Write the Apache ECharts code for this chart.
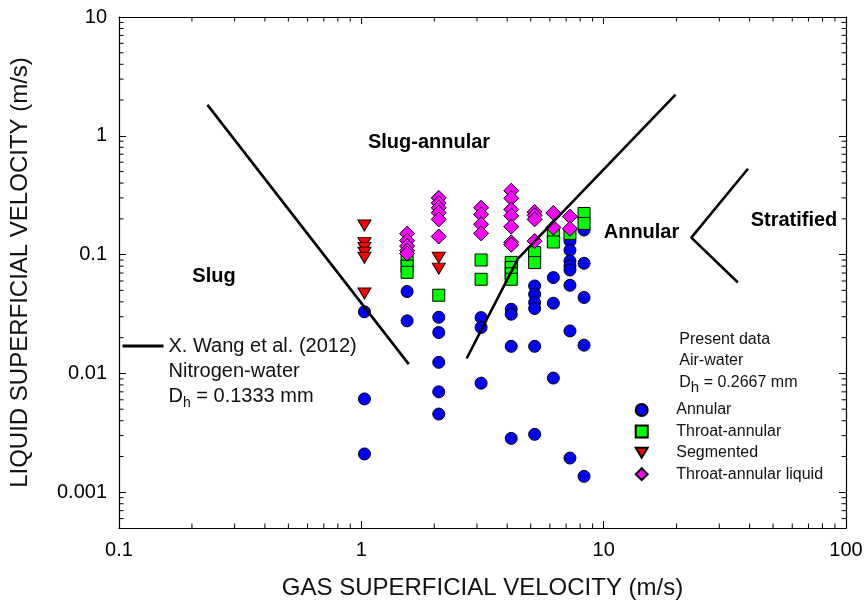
<!DOCTYPE html>
<html><head><meta charset="utf-8">
<script src="https://cdn.jsdelivr.net/npm/echarts@6/dist/echarts.min.js"></script>
<style>html,body{margin:0;padding:0;background:#fff}#c{width:866px;height:608px}</style>
</head><body><div id="c"></div>
<script>
// ---- axis ticks ----
const xTicks = [0.1, 1, 10, 100];
const xTickLabels = ['0.1', '1', '10', '100'];
const yTicks = [0.001, 0.01, 0.1, 1, 10];
const yTickLabels = ['0.001', '0.01', '0.1', '1', '10'];
const minorMultipliers = [2, 3, 4, 5, 6, 7, 8, 9];
const xDecades = [0.1, 1, 10];
const yDecades = [0.0001, 0.001, 0.01, 0.1, 1];
const xMin = 0.1, xMax = 100, yMin = 0.0005, yMax = 10;

// ---- present data (gas velocity, liquid velocity) ----
const annular = [
  [1.03, 0.033], [1.03, 0.0061], [1.03, 0.0021],
  [1.545, 0.0489], [1.545, 0.0277],
  [2.087, 0.0297], [2.087, 0.0221], [2.087, 0.0124], [2.087, 0.0070], [2.087, 0.00455],
  [3.12, 0.0295], [3.12, 0.0244], [3.12, 0.00828],
  [4.155, 0.0347], [4.155, 0.0315], [4.155, 0.0169], [4.155, 0.00284],
  [5.19, 0.0545], [5.19, 0.0464], [5.19, 0.0395], [5.19, 0.0352], [5.19, 0.0169], [5.19, 0.00307],
  [6.2, 0.0641], [6.2, 0.039], [6.2, 0.00914],
  [7.26, 0.130], [7.26, 0.109], [7.26, 0.0883], [7.26, 0.0802], [7.26, 0.0742], [7.26, 0.0552], [7.26, 0.0228], [7.26, 0.00194],
  [8.3, 0.161], [8.3, 0.0845], [8.3, 0.0436], [8.3, 0.0173], [8.3, 0.00136]
];
const throatAnnular = [
  [1.545, 0.092], [1.545, 0.080], [1.545, 0.071],
  [2.087, 0.0455],
  [3.12, 0.0901], [3.12, 0.0620],
  [4.155, 0.086], [4.155, 0.078], [4.155, 0.069], [4.155, 0.062],
  [5.19, 0.104], [5.19, 0.0857],
  [6.2, 0.153], [6.2, 0.1277],
  [7.26, 0.151],
  [8.3, 0.222], [8.3, 0.183]
];
const segmented = [
  [1.03, 0.176], [1.03, 0.125], [1.03, 0.114], [1.03, 0.104], [1.03, 0.094], [1.03, 0.047],
  [2.087, 0.0944], [2.087, 0.0762]
];
const throatAnnularLiquid = [
  [1.545, 0.150], [1.545, 0.131], [1.545, 0.118], [1.545, 0.108], [1.545, 0.102],
  [2.087, 0.300], [2.087, 0.272], [2.087, 0.248], [2.087, 0.225], [2.087, 0.198], [2.087, 0.142],
  [3.12, 0.248], [3.12, 0.218], [3.12, 0.180], [3.12, 0.151],
  [4.155, 0.345], [4.155, 0.298], [4.155, 0.240], [4.155, 0.212], [4.155, 0.172], [4.155, 0.127], [4.155, 0.121],
  [5.19, 0.228], [5.19, 0.214], [5.19, 0.198], [5.19, 0.130],
  [6.2, 0.224], [6.2, 0.169],
  [7.26, 0.209], [7.26, 0.165]
];

// ---- X. Wang et al. (2012) transition boundaries ----
const wangSlugBoundary = [[0.2317, 1.82], [1.569, 0.01197]];
const wangAnnularBoundary = [[2.72, 0.01336], [4.43, 0.0925], [19.8, 2.22]];
const wangStratifiedBoundary = [[39.4, 0.528], [23.0, 0.139], [35.8, 0.0582]];

const FONT = '"Liberation Sans", Arial, Helvetica, sans-serif';

const xMinorData = [];
xDecades.forEach(d => minorMultipliers.forEach(m => { const v = d * m; if (v > xMin && v < xMax) xMinorData.push([v, 1]); }));
const yMinorData = [];
yDecades.forEach(d => minorMultipliers.forEach(m => { const v = d * m; if (v > yMin && v < yMax) yMinorData.push([1, v]); }));

function fmt(ticks, labels) {
  return function (v) {
    for (let i = 0; i < ticks.length; i++) {
      if (Math.abs(Math.log10(v) - Math.log10(ticks[i])) < 1e-6) return labels[i];
    }
    return '';
  };
}

const ML = 4.5;
function minorTickSeries(data, isX) {
  return {
    type: 'custom', coordinateSystem: 'cartesian2d', silent: true, clip: false, z: 6,
    data: data,
    renderItem: function (params, api) {
      const st = { stroke: '#000', lineWidth: 1 };
      if (isX) {
        const v = api.value(0);
        const b = api.coord([v, yMin]), t = api.coord([v, yMax]);
        return { type: 'group', children: [
          { type: 'line', shape: { x1: b[0], y1: b[1], x2: b[0], y2: b[1] - ML }, style: st },
          { type: 'line', shape: { x1: t[0], y1: t[1], x2: t[0], y2: t[1] + ML }, style: st }
        ] };
      } else {
        const v = api.value(1);
        const l = api.coord([xMin, v]), r = api.coord([xMax, v]);
        return { type: 'group', children: [
          { type: 'line', shape: { x1: l[0], y1: l[1], x2: l[0] + ML, y2: l[1] }, style: st },
          { type: 'line', shape: { x1: r[0], y1: r[1], x2: r[0] - ML, y2: r[1] }, style: st }
        ] };
      }
    }
  };
}

const axisCommon = {
  type: 'log', logBase: 10,
  axisLine: { show: true, onZero: false, lineStyle: { color: '#000', width: 1.2 } },
  axisTick: { show: true, inside: true, length: 7, lineStyle: { color: '#000', width: 1 } },
  splitLine: { show: false },
  minorTick: { show: false },
  minorSplitLine: { show: false }
};

const WANG = 'X. Wang et al. (2012)';
const lineStyleWang = { color: '#000', width: 2.6 };

const chart = echarts.init(document.getElementById('c'), null, { renderer: 'canvas' });
chart.setOption({
  animation: false,
  backgroundColor: '#fff',
  textStyle: { fontFamily: FONT },
  grid: { left: 119, right: 20, top: 17, bottom: 80, containLabel: false },
  xAxis: [
    Object.assign({}, axisCommon, { min: xMin, max: xMax, position: 'bottom',
      axisLabel: { show: true, fontSize: 20, color: '#000', margin: 12, fontFamily: FONT, formatter: fmt(xTicks, xTickLabels) } }),
    Object.assign({}, axisCommon, { min: xMin, max: xMax, position: 'top', axisLabel: { show: false } })
  ],
  yAxis: [
    Object.assign({}, axisCommon, { min: yMin, max: yMax, position: 'left',
      axisLabel: { show: true, fontSize: 20, color: '#000', margin: 12, fontFamily: FONT, formatter: fmt(yTicks, yTickLabels) } }),
    Object.assign({}, axisCommon, { min: yMin, max: yMax, position: 'right', axisLabel: { show: false } })
  ],
  legend: [
    {
      data: ['Annular', 'Throat-annular', { name: 'Segmented', icon: 'path://M0,0L13,0L6.5,11Z' }, 'Throat-annular liquid'],
      orient: 'vertical', left: 634.7, top: 402, padding: 0,
      itemWidth: 12, itemHeight: 12, itemGap: 5.4,
      formatter: function (name) { return '{sp| }{t|' + name + '}'; },
      textStyle: { fontSize: 16, lineHeight: 16, color: '#111', fontFamily: FONT,
        rich: { sp: { width: 23.6, fontSize: 16, lineHeight: 16 }, t: { fontSize: 16, lineHeight: 16, color: '#111', fontFamily: FONT } } },
      selectedMode: false
    },
    {
      data: [{ name: WANG, icon: 'rect' }],
      orient: 'vertical', left: 122.5, top: 336, padding: 0,
      itemWidth: 41, itemHeight: 2.8,
      itemStyle: { color: '#000', borderWidth: 0 },
      textStyle: { fontSize: 20, lineHeight: 20, color: '#111', fontFamily: FONT },
      selectedMode: false
    }
  ],
  graphic: [
    { type: 'text', x: 429, y: 142, style: { text: 'Slug-annular', font: 'bold 20px ' + FONT, fill: '#000', textAlign: 'center', textVerticalAlign: 'middle' } },
    { type: 'text', x: 214, y: 276, style: { text: 'Slug', font: 'bold 20px ' + FONT, fill: '#000', textAlign: 'center', textVerticalAlign: 'middle' } },
    { type: 'text', x: 641.5, y: 232, style: { text: 'Annular', font: 'bold 20px ' + FONT, fill: '#000', textAlign: 'center', textVerticalAlign: 'middle' } },
    { type: 'text', x: 794, y: 220, style: { text: 'Stratified', font: 'bold 20px ' + FONT, fill: '#000', textAlign: 'center', textVerticalAlign: 'middle' } },
    { type: 'text', x: 168.5, y: 371, style: { text: 'Nitrogen-water', font: '20px ' + FONT, fill: '#111', textAlign: 'left', textVerticalAlign: 'middle' } },
    { type: 'text', x: 168.5, y: 396, style: {
        text: '{a|D}{s|h}{a| = 0.1333 mm}', textAlign: 'left', textVerticalAlign: 'middle',
        rich: { a: { fontSize: 20, lineHeight: 28, fontFamily: FONT, fill: '#111', verticalAlign: 'middle' },
                s: { fontSize: 14, lineHeight: 14, fontFamily: FONT, fill: '#111', verticalAlign: 'bottom' } } } },
    { type: 'text', x: 679.3, y: 340, style: { text: 'Present data', font: '16px ' + FONT, fill: '#111', textAlign: 'left', textVerticalAlign: 'middle' } },
    { type: 'text', x: 679.3, y: 361, style: { text: 'Air-water', font: '16px ' + FONT, fill: '#111', textAlign: 'left', textVerticalAlign: 'middle' } },
    { type: 'text', x: 679.3, y: 383, style: {
        text: '{a|D}{s|h}{a| = 0.2667 mm}', textAlign: 'left', textVerticalAlign: 'middle',
        rich: { a: { fontSize: 16, lineHeight: 24, fontFamily: FONT, fill: '#111', verticalAlign: 'middle' },
                s: { fontSize: 15, lineHeight: 14, fontFamily: FONT, fill: '#111', verticalAlign: 'bottom' } } } },
    { type: 'text', x: 482.5, y: 588, style: { text: 'GAS SUPERFICIAL VELOCITY (m/s)', font: '24px ' + FONT, fill: '#111', textAlign: 'center', textVerticalAlign: 'middle' } },
    { type: 'text', x: 20, y: 272.5, rotation: Math.PI / 2, style: { text: 'LIQUID SUPERFICIAL VELOCITY (m/s)', font: '24px ' + FONT, fill: '#111', textAlign: 'center', textVerticalAlign: 'middle' } }
  ],
  series: [
    { name: 'Annular', type: 'scatter', data: annular, symbol: 'circle', symbolSize: 12, z: 2,
      itemStyle: { color: '#0000ff', borderColor: '#000', borderWidth: 1, opacity: 1 } },
    { name: 'Throat-annular', type: 'scatter', data: throatAnnular, symbol: 'rect', symbolSize: 12, z: 2,
      itemStyle: { color: '#00ff00', borderColor: '#000', borderWidth: 1, opacity: 1 } },
    { name: 'Segmented', type: 'scatter', data: segmented, symbol: 'triangle', symbolRotate: 180, symbolSize: [13, 11], z: 2,
      itemStyle: { color: '#ff0000', borderColor: '#000', borderWidth: 1, opacity: 1 } },
    { name: 'Throat-annular liquid', type: 'scatter', data: throatAnnularLiquid, symbol: 'diamond', symbolSize: 15, z: 2,
      itemStyle: { color: '#ff00ff', borderColor: '#000', borderWidth: 1, opacity: 1 } },
    { name: WANG, type: 'line', data: wangSlugBoundary, symbol: 'none', z: 3, lineStyle: lineStyleWang, itemStyle: { color: '#000' } },
    { name: WANG, type: 'line', data: wangAnnularBoundary, symbol: 'none', z: 3, lineStyle: lineStyleWang, itemStyle: { color: '#000' } },
    { name: WANG, type: 'line', data: wangStratifiedBoundary, symbol: 'none', z: 3, lineStyle: lineStyleWang, itemStyle: { color: '#000' } },
    minorTickSeries(xMinorData, true),
    minorTickSeries(yMinorData, false)
  ]
});
</script></body></html>
